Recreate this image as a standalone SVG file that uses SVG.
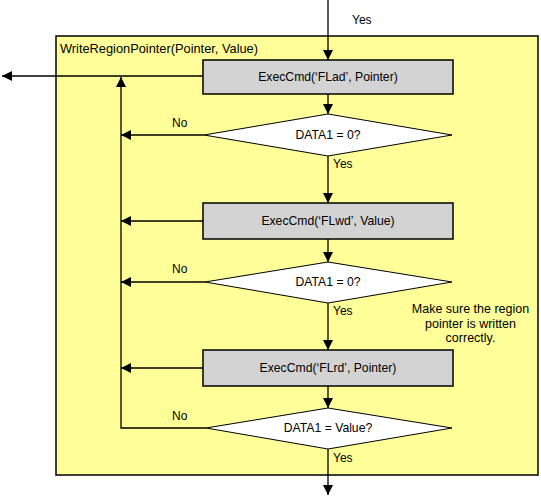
<svg xmlns="http://www.w3.org/2000/svg" width="541" height="497" viewBox="0 0 541 497">
<defs>
<marker id="ah" viewBox="0 0 10 10" refX="10" refY="5" markerWidth="10" markerHeight="10" markerUnits="userSpaceOnUse" orient="auto">
<path d="M0,0 L10,5 L0,10 Z" fill="#000"/>
</marker>
<style>
.proc{fill:#D3D3D3;stroke:#000;stroke-width:1.5}
.dec{fill:#FFFFFF;stroke:#000;stroke-width:1}
.lbl{font-family:"Liberation Sans",Arial,sans-serif;font-size:12.2px;fill:#000;text-anchor:middle}
.sm{font-family:"Liberation Sans",Arial,sans-serif;font-size:12px;fill:#000}
.note{font-family:"Liberation Sans",Arial,sans-serif;font-size:12.5px;fill:#000;text-anchor:middle}
.con{fill:none;stroke:#000;stroke-width:1.3}
</style>
</defs>
<rect width="541" height="497" fill="#FFFFFF"/>
<g id="container">
<rect x="56" y="36" width="482" height="439" fill="#FFFF99" stroke="#000" stroke-width="1.5"/>
<text x="60" y="53" class="sm" style="font-size:12.8px">WriteRegionPointer(Pointer, Value)</text>
</g>
<g id="connectors">
<path class="con" d="M328,0 V60" marker-end="url(#ah)"/>
<path class="con" d="M328,94 V114" marker-end="url(#ah)"/>
<path class="con" d="M328,156 V203" marker-end="url(#ah)"/>
<path class="con" d="M328,239 V262" marker-end="url(#ah)"/>
<path class="con" d="M328,303 V350" marker-end="url(#ah)"/>
<path class="con" d="M328,386 V408" marker-end="url(#ah)"/>
<path class="con" d="M328,449 V495" marker-end="url(#ah)"/>
<path class="con" d="M203,76 H2" marker-end="url(#ah)"/>
<path class="con" d="M204,135 H121" marker-end="url(#ah)"/>
<path class="con" d="M203,221 H121" marker-end="url(#ah)"/>
<path class="con" d="M205,282 H121" marker-end="url(#ah)"/>
<path class="con" d="M203,368 H121" marker-end="url(#ah)"/>
<path class="con" d="M206,428 H121 V77" marker-end="url(#ah)"/>
<text x="352" y="24" class="sm">Yes</text>
<text x="172" y="127" class="sm">No</text>
<text x="333" y="168" class="sm">Yes</text>
<text x="172" y="273" class="sm">No</text>
<text x="333" y="315" class="sm">Yes</text>
<text x="172" y="420" class="sm">No</text>
<text x="333" y="462" class="sm">Yes</text>
</g>
<g id="n1">
<rect x="203" y="60" width="250" height="34" class="proc"/>
<text x="328" y="81" class="lbl">ExecCmd(‘FLad’, Pointer)</text>
</g>
<g id="d1">
<polygon points="328,114 452,135 328,156 204,135" class="dec"/>
<text x="328" y="139" class="lbl">DATA1 = 0?</text>
</g>
<g id="n2">
<rect x="203" y="203" width="250" height="36" class="proc"/>
<text x="328" y="225" class="lbl">ExecCmd(‘FLwd’, Value)</text>
</g>
<g id="d2">
<polygon points="328,262 452,282 328,303 205,282" class="dec"/>
<text x="328" y="286" class="lbl">DATA1 = 0?</text>
</g>
<g id="n3">
<rect x="203" y="350" width="250" height="36" class="proc"/>
<text x="328" y="372" class="lbl">ExecCmd(‘FLrd’, Pointer)</text>
</g>
<g id="d3">
<polygon points="328,408 452,428 328,449 206,428" class="dec"/>
<text x="328" y="432" class="lbl">DATA1 = Value?</text>
</g>
<g id="note">
<text class="note" x="470.5" y="313">Make sure the region</text>
<text class="note" x="470.5" y="328">pointer is written</text>
<text class="note" x="470.5" y="342">correctly.</text>
</g>
</svg>
